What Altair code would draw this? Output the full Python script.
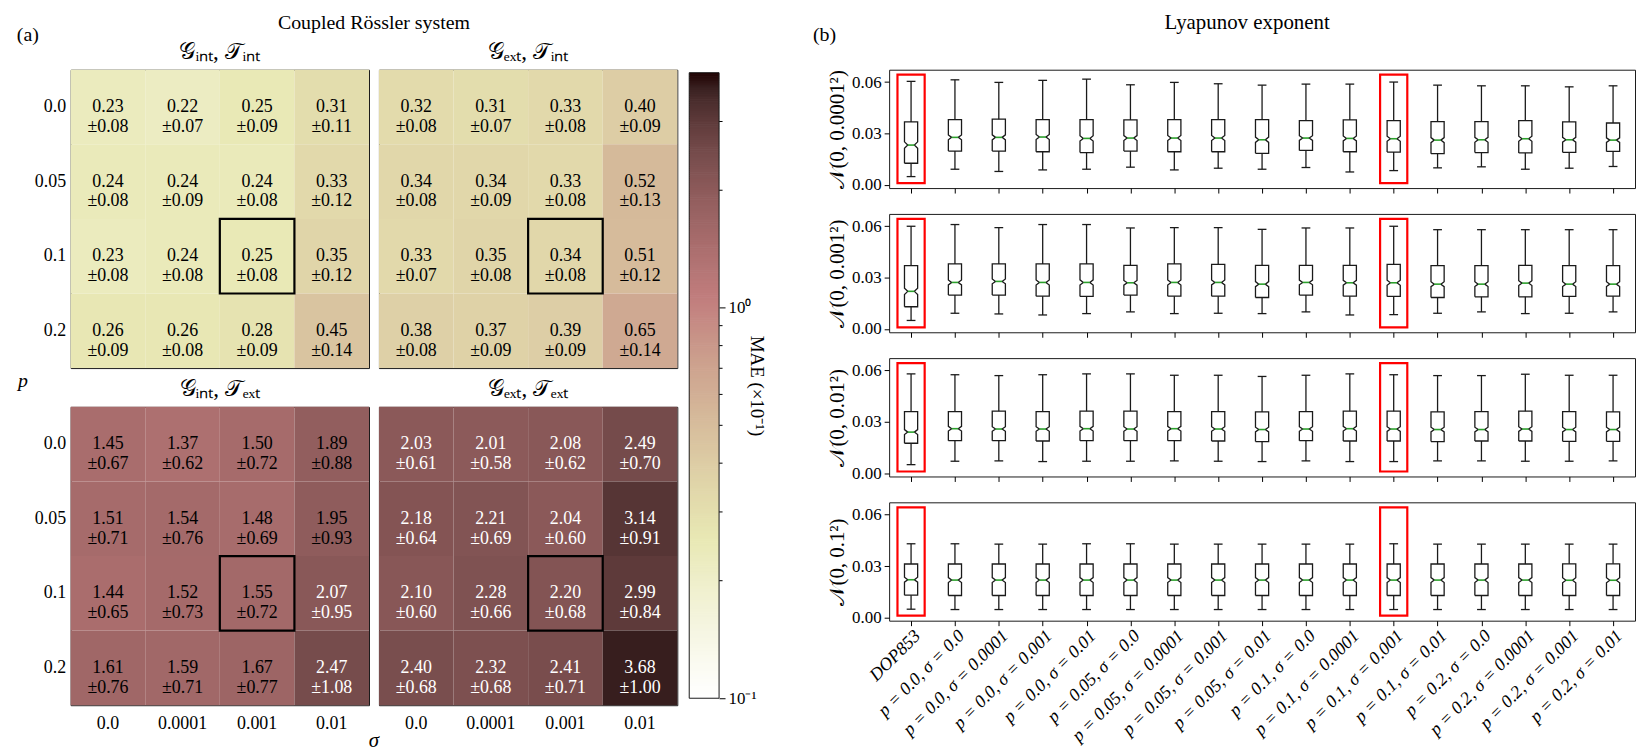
import json
import numpy as np
import pandas as pd
import altair as alt

FONT = "Liberation Serif"
INK = "#1a1a1a"
GREEN = "#2ca02c"

# ------------------------------------------------------------------ data
P_LABELS = ["0.0", "0.05", "0.1", "0.2"]
SIGMA_LABELS = ["0.0", "0.0001", "0.001", "0.01"]
HEAT_TITLES = ["𝒢ᵢₙₜ, 𝒯ᵢₙₜ", "𝒢ₑₓₜ, 𝒯ᵢₙₜ", "𝒢ᵢₙₜ, 𝒯ₑₓₜ", "𝒢ₑₓₜ, 𝒯ₑₓₜ"]

MAE_GINT_TINT = [[0.23, 0.22, 0.25, 0.31], [0.24, 0.24, 0.24, 0.33], [0.23, 0.24, 0.25, 0.35], [0.26, 0.26, 0.28, 0.45]]
STD_GINT_TINT = [[0.08, 0.07, 0.09, 0.11], [0.08, 0.09, 0.08, 0.12], [0.08, 0.08, 0.08, 0.12], [0.09, 0.08, 0.09, 0.14]]
MAE_GEXT_TINT = [[0.32, 0.31, 0.33, 0.40], [0.34, 0.34, 0.33, 0.52], [0.33, 0.35, 0.34, 0.51], [0.38, 0.37, 0.39, 0.65]]
STD_GEXT_TINT = [[0.08, 0.07, 0.08, 0.09], [0.08, 0.09, 0.08, 0.13], [0.07, 0.08, 0.08, 0.12], [0.08, 0.09, 0.09, 0.14]]
MAE_GINT_TEXT = [[1.45, 1.37, 1.50, 1.89], [1.51, 1.54, 1.48, 1.95], [1.44, 1.52, 1.55, 2.07], [1.61, 1.59, 1.67, 2.47]]
STD_GINT_TEXT = [[0.67, 0.62, 0.72, 0.88], [0.71, 0.76, 0.69, 0.93], [0.65, 0.73, 0.72, 0.95], [0.76, 0.71, 0.77, 1.08]]
MAE_GEXT_TEXT = [[2.03, 2.01, 2.08, 2.49], [2.18, 2.21, 2.04, 3.14], [2.10, 2.28, 2.20, 2.99], [2.40, 2.32, 2.41, 3.68]]
STD_GEXT_TEXT = [[0.61, 0.58, 0.62, 0.70], [0.64, 0.69, 0.60, 0.91], [0.60, 0.66, 0.68, 0.84], [0.68, 0.68, 0.71, 1.00]]
HEAT_MEANS = [MAE_GINT_TINT, MAE_GEXT_TINT, MAE_GINT_TEXT, MAE_GEXT_TEXT]
HEAT_STDS = [STD_GINT_TINT, STD_GEXT_TINT, STD_GINT_TEXT, STD_GEXT_TEXT]
HIGHLIGHT_P = "0.1"
HIGHLIGHT_SIGMA = "0.001"
COLOR_MIN = 0.1
COLOR_MAX = 4.0

BOX_LABELS = ["DOP853"] + [f"p = {p}, σ = {s}" for p in P_LABELS for s in SIGMA_LABELS]
NOISE_TITLES = ["𝒩(0, 0.0001²)", "𝒩(0, 0.001²)", "𝒩(0, 0.01²)", "𝒩(0, 0.1²)"]
HIGHLIGHT_BOXES = [0, 11]
N_SAMPLES = 400

# noise 0.0001
HI_1 = [0.0604, 0.0613, 0.0598, 0.0610, 0.0617, 0.0584, 0.0598, 0.0590, 0.0582, 0.0588, 0.0588, 0.0600, 0.0582, 0.0578, 0.0578, 0.0572, 0.0578]
Q3_1 = [0.0367, 0.0381, 0.0383, 0.0381, 0.0381, 0.0379, 0.0381, 0.0381, 0.0381, 0.0375, 0.0379, 0.0375, 0.0369, 0.0369, 0.0375, 0.0367, 0.0361]
MED_1 = [0.0232, 0.0277, 0.0277, 0.0279, 0.0271, 0.0273, 0.0273, 0.0273, 0.0263, 0.0273, 0.0271, 0.0269, 0.0261, 0.0263, 0.0269, 0.0263, 0.0261]
Q1_1 = [0.0126, 0.0197, 0.0197, 0.0193, 0.0188, 0.0197, 0.0193, 0.0193, 0.0184, 0.0201, 0.0193, 0.0191, 0.0182, 0.0188, 0.0186, 0.0190, 0.0195]
LO_1 = [0.0048, 0.0091, 0.0078, 0.0087, 0.0091, 0.0103, 0.0087, 0.0097, 0.0091, 0.0101, 0.0075, 0.0083, 0.0099, 0.0105, 0.0091, 0.0097, 0.0107]
# noise 0.001
HI_2 = [0.0600, 0.0610, 0.0592, 0.0610, 0.0610, 0.0590, 0.0592, 0.0592, 0.0582, 0.0590, 0.0590, 0.0600, 0.0580, 0.0580, 0.0580, 0.0580, 0.0580]
Q3_2 = [0.0370, 0.0380, 0.0380, 0.0380, 0.0380, 0.0372, 0.0380, 0.0378, 0.0372, 0.0372, 0.0372, 0.0378, 0.0370, 0.0370, 0.0372, 0.0370, 0.0370]
MED_2 = [0.0220, 0.0272, 0.0278, 0.0272, 0.0272, 0.0270, 0.0272, 0.0272, 0.0262, 0.0272, 0.0270, 0.0270, 0.0262, 0.0262, 0.0268, 0.0262, 0.0262]
Q1_2 = [0.0130, 0.0198, 0.0198, 0.0192, 0.0190, 0.0198, 0.0192, 0.0192, 0.0184, 0.0198, 0.0192, 0.0190, 0.0184, 0.0188, 0.0188, 0.0190, 0.0192]
LO_2 = [0.0050, 0.0092, 0.0088, 0.0082, 0.0090, 0.0100, 0.0090, 0.0092, 0.0090, 0.0100, 0.0082, 0.0084, 0.0092, 0.0100, 0.0090, 0.0092, 0.0100]
# noise 0.01
HI_3 = [0.0580, 0.0575, 0.0570, 0.0575, 0.0580, 0.0580, 0.0572, 0.0572, 0.0565, 0.0572, 0.0580, 0.0575, 0.0570, 0.0570, 0.0578, 0.0572, 0.0572]
Q3_3 = [0.0360, 0.0360, 0.0362, 0.0360, 0.0362, 0.0362, 0.0360, 0.0360, 0.0358, 0.0360, 0.0362, 0.0362, 0.0358, 0.0360, 0.0362, 0.0360, 0.0358]
MED_3 = [0.0240, 0.0260, 0.0258, 0.0258, 0.0260, 0.0258, 0.0260, 0.0258, 0.0255, 0.0258, 0.0260, 0.0258, 0.0255, 0.0255, 0.0258, 0.0255, 0.0255]
Q1_3 = [0.0175, 0.0190, 0.0190, 0.0188, 0.0190, 0.0190, 0.0190, 0.0188, 0.0185, 0.0190, 0.0188, 0.0188, 0.0185, 0.0188, 0.0188, 0.0186, 0.0186]
LO_3 = [0.0050, 0.0070, 0.0072, 0.0068, 0.0070, 0.0070, 0.0072, 0.0070, 0.0068, 0.0072, 0.0068, 0.0068, 0.0072, 0.0072, 0.0070, 0.0070, 0.0072]
# noise 0.1
HI_4 = [0.0430, 0.0430, 0.0428, 0.0428, 0.0430, 0.0430, 0.0428, 0.0428, 0.0428, 0.0428, 0.0428, 0.0430, 0.0428, 0.0428, 0.0428, 0.0428, 0.0428]
Q3_4 = [0.0312, 0.0312, 0.0312, 0.0312, 0.0312, 0.0312, 0.0312, 0.0312, 0.0312, 0.0312, 0.0312, 0.0312, 0.0312, 0.0312, 0.0312, 0.0313, 0.0313]
MED_4 = [0.0220, 0.0218, 0.0218, 0.0218, 0.0218, 0.0218, 0.0218, 0.0218, 0.0218, 0.0218, 0.0218, 0.0218, 0.0218, 0.0218, 0.0218, 0.0217, 0.0217]
Q1_4 = [0.0130, 0.0128, 0.0128, 0.0128, 0.0128, 0.0128, 0.0128, 0.0128, 0.0128, 0.0128, 0.0128, 0.0128, 0.0128, 0.0128, 0.0128, 0.0128, 0.0128]
LO_4 = [0.0048, 0.0046, 0.0046, 0.0046, 0.0046, 0.0046, 0.0046, 0.0046, 0.0046, 0.0046, 0.0046, 0.0046, 0.0046, 0.0046, 0.0046, 0.0046, 0.0046]
BOX_STATS = [
    (HI_1, Q3_1, MED_1, Q1_1, LO_1),
    (HI_2, Q3_2, MED_2, Q1_2, LO_2),
    (HI_3, Q3_3, MED_3, Q1_3, LO_3),
    (HI_4, Q3_4, MED_4, Q1_4, LO_4),
]
Y_MIN, Y_MAX = -0.0019, 0.0672
BOX_HALF = 0.15
CAP_HALF = 0.10
RED_HALF = 0.31
RED_BOTTOM, RED_TOP = 0.0010, 0.0643


# ------------------------------------------------------------------ colour map (matplotlib "pink_r")
def pink_hex(x):
    rh = np.interp(x, [0.0, 0.365079, 1.0], [0.0416, 1.0, 1.0])
    gh = np.interp(x, [0.0, 0.365079, 0.746032, 1.0], [0.0, 0.0, 1.0, 1.0])
    bh = np.interp(x, [0.0, 0.746032, 1.0], [0.0, 0.0, 1.0])
    r, g, b = (np.sqrt((2 * x + c) / 3.0) for c in (rh, gh, bh))
    return "#%02x%02x%02x" % tuple(int(round(255 * v)) for v in (r, g, b))


_t = np.linspace(0.0, 1.0, 41)
COLOR_SCALE = alt.Scale(
    type="log",
    domain=[float(COLOR_MIN * (COLOR_MAX / COLOR_MIN) ** t) for t in _t],
    range=[pink_hex(1.0 - t) for t in _t],
    interpolate="rgb",
)


def one_row():
    return pd.DataFrame([{"a": 0}])


def anchor(x, y):
    return alt.Chart(one_row()).mark_point(filled=True, size=2, color="white", opacity=1).encode(
        x=alt.value(x), y=alt.value(y))


def label(text, x, y, size, style="normal", angle=0):
    return alt.Chart(pd.DataFrame([{"t": text}])).mark_text(
        font=FONT, fontSize=size, fontStyle=style, align="center", baseline="middle",
        color="black", angle=angle).encode(x=alt.value(x), y=alt.value(y), text="t:N")


# ------------------------------------------------------------------ heatmaps
def heat_chart(k, show_x, show_y, extras):
    rows = []
    for i, p in enumerate(P_LABELS):
        for j, s in enumerate(SIGMA_LABELS):
            m, sd = HEAT_MEANS[k][i][j], HEAT_STDS[k][i][j]
            rows.append({"p": p, "sigma": s, "mae": m, "label": f"{m:.2f}\n±{sd:.2f}"})
    df = pd.DataFrame(rows)
    xaxis = alt.Axis(labelFontSize=18, labelAngle=0, ticks=False, tickSize=0, labelPadding=9,
                     title=None) if show_x else None
    yaxis = alt.Axis(labelFontSize=18, ticks=False, tickSize=0, labelPadding=5,
                     title=None) if show_y else None
    x = alt.X("sigma:N", scale=alt.Scale(domain=SIGMA_LABELS, paddingInner=0, paddingOuter=0), axis=xaxis)
    y = alt.Y("p:N", scale=alt.Scale(domain=P_LABELS, paddingInner=0, paddingOuter=0), axis=yaxis)
    base = alt.Chart(df)
    rect = base.mark_rect().encode(x=x, y=y, color=alt.Color("mae:Q", scale=COLOR_SCALE, legend=None))
    txt = base.mark_text(font=FONT, fontSize=18, lineBreak="\n", lineHeight=20, baseline="middle").encode(
        x=x, y=y, text="label:N",
        color=alt.condition(alt.datum.mae > 2.0, alt.value("white"), alt.value("black")))
    hl = alt.Chart(pd.DataFrame([{"p": HIGHLIGHT_P, "sigma": HIGHLIGHT_SIGMA}])).mark_rect(
        fillOpacity=0, stroke="black", strokeWidth=2.2).encode(x=x, y=y)
    title = label(HEAT_TITLES[k], 150, -18, 23)
    return alt.layer(rect, txt, hl, title, *extras).properties(width=300, height=300)


h1 = heat_chart(0, False, True, [
    label("(a)", -43, -35, 20),
    label("Coupled Rössler system", 305, -47, 20),
    anchor(-61, -58),
])
h2 = heat_chart(1, False, False, [])
h3 = heat_chart(2, True, True, [
    label("p", -48, -26, 20, style="italic"),
    label("σ", 305, 336, 21, style="italic"),
    anchor(-61, -36),
])
h4 = heat_chart(3, True, False, [])

left = alt.vconcat(
    alt.hconcat(h1, h2, spacing=10, bounds="flush"),
    alt.hconcat(h3, h4, spacing=10, bounds="flush"),
    spacing=0,
)

# ------------------------------------------------------------------ colour bar
CB_H = 632
cb_t = np.linspace(0.0, 1.0, 301)
cb_v = COLOR_MIN * (COLOR_MAX / COLOR_MIN) ** cb_t
cb_df = pd.DataFrame({"lo": cb_v[:-1], "hi": np.minimum(cb_v[1:] * 1.004, COLOR_MAX),
                      "mid": np.sqrt(cb_v[:-1] * cb_v[1:])})
cb_y = alt.Scale(type="log", domain=[COLOR_MIN, COLOR_MAX], nice=False, zero=False, range=[CB_H, 3])
cb_axis = alt.Axis(orient="right", values=[0.1, 1.0],
                   labelExpr="datum.value >= 0.5 ? '10⁰' : '10⁻¹'",
                   labelFontSize=17, tickSize=6, labelPadding=3, labelFlush=False,
                   title="MAE (×10⁻¹)", titleFontSize=19, titlePadding=-9)
cb_rect = alt.Chart(cb_df).mark_rect().encode(
    x=alt.value(0), x2=alt.value(30),
    y=alt.Y("lo:Q", scale=cb_y, axis=cb_axis), y2="hi:Q",
    color=alt.Color("mid:Q", scale=COLOR_SCALE, legend=None))
MINOR = [0.2, 0.3, 0.4, 0.5, 0.6, 0.7, 0.8, 0.9, 2.0, 3.0]
cb_minor = alt.Chart(pd.DataFrame({"v": MINOR})).mark_rule(color="black", strokeWidth=1).encode(
    y=alt.Y("v:Q", scale=cb_y, axis=cb_axis), x=alt.value(30), x2=alt.value(33.5))
cb_frame = alt.Chart(pd.DataFrame([{"lo": COLOR_MIN, "hi": COLOR_MAX}])).mark_rect(
    fillOpacity=0, stroke=INK, strokeWidth=1).encode(
    x=alt.value(0), x2=alt.value(30), y=alt.Y("lo:Q", scale=cb_y, axis=cb_axis), y2="hi:Q")
cbar = alt.layer(cb_rect, cb_minor, cb_frame, anchor(107, 300)).properties(
    width=30, height=CB_H, view=alt.ViewBackground(stroke="transparent"))


# ------------------------------------------------------------------ box plots
def box_chart(k):
    hi, q3, med, q1, lo = BOX_STATS[k]
    stats_rows, path_rows = [], []
    for i in range(len(BOX_LABELS)):
        pos = i + 1
        nh = 1.57 * (q3[i] - q1[i]) / np.sqrt(N_SAMPLES)
        cilo, cihi = med[i] - nh, med[i] + nh
        xs = [pos - BOX_HALF, pos + BOX_HALF, pos + BOX_HALF, pos + BOX_HALF / 2, pos + BOX_HALF,
              pos + BOX_HALF, pos - BOX_HALF, pos - BOX_HALF, pos - BOX_HALF / 2, pos - BOX_HALF,
              pos - BOX_HALF]
        ys = [q1[i], q1[i], cilo, med[i], cihi, q3[i], q3[i], cihi, med[i], cilo, q1[i]]
        for j, (xx, yy) in enumerate(zip(xs, ys)):
            path_rows.append({"box": i, "x": xx, "y": yy, "o": j})
        stats_rows.append({"pos": pos, "lo": lo[i], "q1": q1[i], "med": med[i], "q3": q3[i], "hi": hi[i],
                           "cl": pos - CAP_HALF, "cr": pos + CAP_HALF,
                           "ml": pos - BOX_HALF / 2, "mr": pos + BOX_HALF / 2})
    red_rows = [{"l": i + 1 - RED_HALF, "r": i + 1 + RED_HALF, "b": RED_BOTTOM, "t": RED_TOP}
                for i in HIGHLIGHT_BOXES]
    last = k == len(BOX_STATS) - 1
    xs_ = alt.Scale(domain=[0.5, len(BOX_LABELS) + 0.5], nice=False, zero=False)
    ys_ = alt.Scale(domain=[Y_MIN, Y_MAX], nice=False, zero=False)
    xaxis = alt.Axis(values=list(range(1, len(BOX_LABELS) + 1)), labels=last,
                     labelExpr=json.dumps(BOX_LABELS) + "[datum.value - 1]",
                     labelAngle=-45, labelAlign="right", labelBaseline="top",
                     labelFontSize=18, labelFontStyle="italic", labelPadding=1,
                     labelOverlap=False, labelFlush=False, tickSize=5, title=None, grid=False)
    yaxis = alt.Axis(values=[0.0, 0.03, 0.06], format=".2f", labelFontSize=17, tickSize=5,
                     labelPadding=3, labelFlush=False, title=NOISE_TITLES[k], titleFontSize=21,
                     titlePadding=4, grid=False)

    def X(f):
        return alt.X(f, type="quantitative", scale=xs_, axis=xaxis)

    def Y(f):
        return alt.Y(f, type="quantitative", scale=ys_, axis=yaxis)

    st = alt.Chart(pd.DataFrame(stats_rows))
    line = dict(color=INK, strokeWidth=1.3)
    layers = [
        st.mark_rule(**line).encode(x=X("pos"), y=Y("q3"), y2="hi"),
        st.mark_rule(**line).encode(x=X("pos"), y=Y("lo"), y2="q1"),
        st.mark_rule(**line).encode(x=X("cl"), x2="cr", y=Y("hi")),
        st.mark_rule(**line).encode(x=X("cl"), x2="cr", y=Y("lo")),
        alt.Chart(pd.DataFrame(path_rows)).mark_line(**line).encode(
            x=X("x"), y=Y("y"), detail="box:N", order="o:Q"),
        st.mark_rule(color=GREEN, strokeWidth=1.6).encode(x=X("ml"), x2="mr", y=Y("med")),
        alt.Chart(pd.DataFrame(red_rows)).mark_rect(fillOpacity=0, stroke="red", strokeWidth=2.2).encode(
            x=X("l"), x2="r", y=Y("b"), y2="t"),
        anchor(-80, 60),
    ]
    if k == 0:
        layers += [label("(b)", -65, -35, 20), label("Lyapunov exponent", 360, -47, 21), anchor(-80, -58)]
    return alt.layer(*layers).properties(width=750, height=119)


right = alt.vconcat(*[box_chart(k) for k in range(len(BOX_STATS))], spacing=19)

chart = alt.hconcat(left, cbar, right, spacing=10).properties(
    padding=0, background="white"
).configure_view(stroke=INK, strokeWidth=1).configure_axis(
    labelFont=FONT, titleFont=FONT, labelColor="black", titleColor="black", tickColor="black",
    domain=False, grid=False, titleFontWeight="normal"
)

chart.save("out.html", embed_options={"renderer": "svg", "actions": False})
